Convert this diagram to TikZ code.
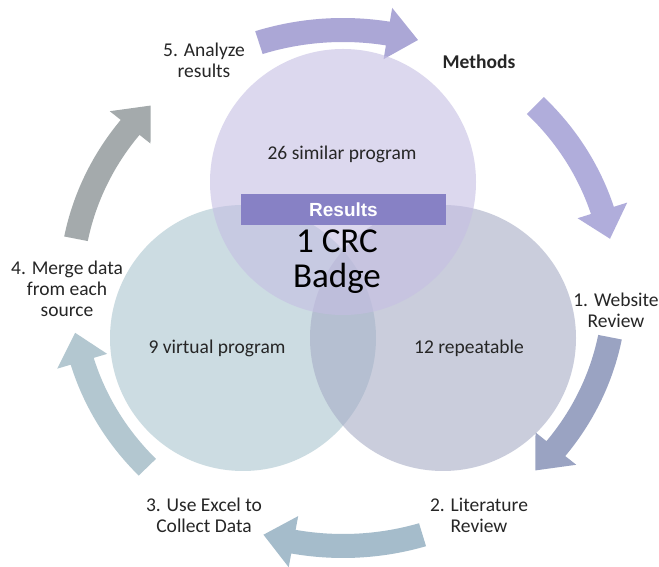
\documentclass[tikz,border=0pt]{standalone}
\usepackage{fontspec}
\setmainfont{Carlito}
\newfontfamily\resultsfont{Liberation Sans}
\usetikzlibrary{positioning}

\definecolor{txtgray}{HTML}{262626}
\definecolor{topfill}{HTML}{C5BEE3}
\definecolor{leftfill}{HTML}{AAC5CF}
\definecolor{rightfill}{HTML}{A7ADC6}
\definecolor{resultsbox}{HTML}{8781C5}
\definecolor{arrowA}{HTML}{ABA7D6}
\definecolor{arrowB}{HTML}{B0ADDB}
\definecolor{arrowC}{HTML}{9AA3C2}
\definecolor{arrowD}{HTML}{A5BCCB}
\definecolor{arrowE}{HTML}{B3C7D0}
\definecolor{arrowF}{HTML}{A4AAAC}

\begin{document}
\begin{tikzpicture}[
    x=1pt, y=1pt,
    venn/.style={fill opacity=0.6},
    lbl/.style={
      font=\fontsize{19.5}{21}\selectfont,
      text=txtgray,
      align=center,
      inner sep=0pt
      },
    badge/.style={
      font=\fontsize{35}{35}\selectfont,
      text=black,
      align=center,
      inner sep=0pt
      },
    resbox/.style={
      fill=resultsbox,
      text=white,
      font=\resultsfont\bfseries\fontsize{19}{22}\selectfont,
      minimum width=205pt,
      minimum height=31pt,
      inner sep=0pt
      }
    ]

\path[fill=white, use as bounding box] (0,0) rectangle (659,567);

% cycle of curved arrows
\foreach \c/\col in {91/arrowA, 28/arrowB, -28/arrowC, -90/arrowD, -153/arrowE, 152/arrowF}{
  \fill[\col, shift={(343,279)}]
    (\c+17:284 and 270) arc[start angle=\c+17, end angle=\c-10.5, x radius=284, y radius=270]
    -- (\c-10.5:298 and 284) -- (\c-17:272 and 258) -- (\c-10.5:246 and 232)
    -- (\c-10.5:260 and 246) arc[start angle=\c-10.5, end angle=\c+17, x radius=260, y radius=246]
    -- cycle;
}

% the three circles
\fill[venn, leftfill]  (243,229) circle (133);
\fill[venn, rightfill] (443,229) circle (133);
\fill[venn, topfill]   (343,385) circle (133);

\node[resbox] (results) at (343.5,357.5) {Results};
\node[badge] (crc) at (337,305) {1 CRC\\Badge};

\node[lbl] (similar) at (342,413) {26 similar program};
\node[lbl] (virtual) at (217,218.2) {9 virtual program};
\node[lbl] (repeat) at (469,218.2) {12 repeatable};

% step labels
\node[lbl, font=\bfseries\fontsize{19.5}{21}\selectfont] (methods) at (479,505.5) {Methods};
\node[lbl] (website) at (616,257) {1. Website\\Review};
\node[lbl] (literature) at (479,51.5) {2. Literature\\Review};
\node[lbl] (excel) at (204,51.5) {3. Use Excel to\\Collect Data};
\node[lbl] (merge) at (67,278.5) {4. Merge data\\from each\\source};
\node[lbl] (analyze) at (204,506.5) {5. Analyze\\results};
\end{tikzpicture}
\end{document}
